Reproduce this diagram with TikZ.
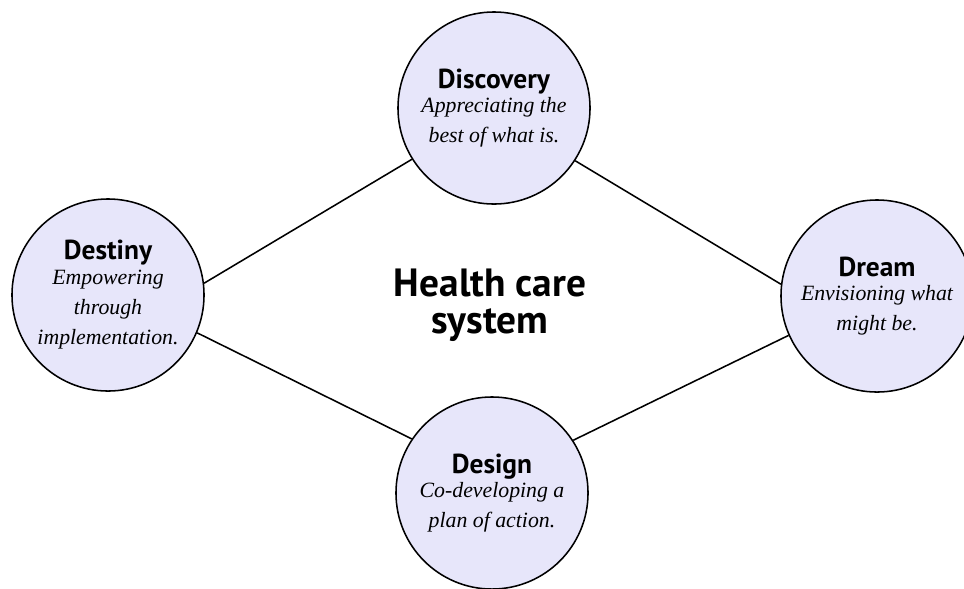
\documentclass[tikz,border=0pt]{standalone}
\usepackage{fontspec}
\setmainfont{Liberation Serif}
\setsansfont{PT Sans}
\usepackage{tikz}
\definecolor{lav}{RGB}{231,230,250}
\newcommand{\ttl}[1]{{\upshape\sffamily\bfseries\fontsize{19.5}{21}\selectfont #1}}

\begin{document}
\begin{tikzpicture}[
      x=0.025cm, y=-0.025cm,
      every node/.style={align=center},
      stage/.style={circle, draw, fill=lav, line width=1.1pt, minimum size=4.8cm,
                    inner sep=0pt, font=\itshape\fontsize{15.5}{21.5}\selectfont}]
        \useasboundingbox (0,0) rectangle (964,588);

        \node[stage] (discovery) at (494,108) {\ttl{Discovery}\\[-4pt]
          Appreciating the\\ best of what is.};
        \node[stage] (destiny) at (108,295) {\ttl{Destiny}\\[-4pt]
          Empowering\\ through\\ implementation.};
        \node[stage] (dream) at (877,296) {\ttl{Dream}\\[-4pt]
          Envisioning what\\ might be.};
        \node[stage] (design) at (492,493) {\ttl{Design}\\[-4pt]
          Co-developing a\\ plan of action.};

        \node[font=\sffamily\bfseries\fontsize{28}{26}\selectfont] (system) at (490,305)
          {Health care\\ system};

        \draw[line width=1.1pt] (destiny.7) -- (discovery.212);
        \draw[line width=1.1pt] (destiny.-23) -- (design.146);
        \draw[line width=1.1pt] (discovery.-33) -- (dream.173);
        \draw[line width=1.1pt] (dream.204) -- (design.33);

\end{tikzpicture}
\end{document}
